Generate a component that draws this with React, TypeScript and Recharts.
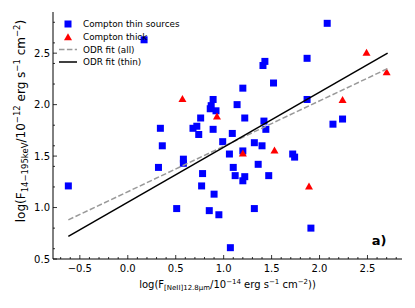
import { ScatterChart, Scatter, XAxis, YAxis, Legend } from "recharts";

// Compton thin sources (blue squares)
const thinX = [
  -0.62, 0.17, 0.34, 0.36, 0.32, 0.58, 0.58, 0.51, 0.78, 0.77, 0.85, 0.68, 0.72,
  0.74, 0.76, 0.89, 0.87, 0.92, 0.86, 0.89, 1.2, 1.52, 1.14, 1.22, 1.09, 1.42,
  1.44, 0.99, 1.32, 1.4, 1.06, 1.2, 1.1, 1.36, 1.12, 1.22, 1.47, 1.2, 0.9, 0.95,
  1.32, 1.07, 2.08, 1.87, 1.43, 1.41, 1.87, 2.14, 2.24, 1.72, 1.74, 1.91,
];
const thinY = [
  1.21, 2.63, 1.77, 1.6, 1.39, 1.47, 1.43, 0.99, 1.33, 1.21, 0.97, 1.77, 1.79,
  1.71, 1.87, 2.05, 1.99, 1.94, 1.96, 1.76, 2.16, 2.21, 2.0, 1.87, 1.72, 1.84,
  1.76, 1.64, 1.63, 1.6, 1.52, 1.55, 1.39, 1.42, 1.31, 1.3, 1.31, 1.26, 1.13, 0.93,
  0.99, 0.61, 2.79, 2.45, 2.42, 2.38, 2.05, 1.81, 1.86, 1.52, 1.49, 0.8,
];

// Compton thick (red triangles)
const thickX = [0.57, 0.93, 1.2, 1.53, 1.89, 2.24, 2.49, 2.7];
const thickY = [2.06, 1.89, 1.53, 1.56, 1.21, 2.05, 2.51, 2.32];

// ODR fits, end points
const fitX = [-0.62, 2.71];
const fitAllY = [0.88, 2.35];
const fitThinY = [0.72, 2.5];

const xMajor = [-0.5, 0, 0.5, 1, 1.5, 2, 2.5];
const yMajor = [0.5, 1, 1.5, 2, 2.5];
const xTicks = [
  -0.7, -0.6, -0.5, -0.4, -0.3, -0.2, -0.1, 0, 0.1, 0.2, 0.3, 0.4, 0.5, 0.6, 0.7,
  0.8, 0.9, 1, 1.1, 1.2, 1.3, 1.4, 1.5, 1.6, 1.7, 1.8, 1.9, 2, 2.1, 2.2, 2.3, 2.4,
  2.5, 2.6, 2.7, 2.8,
];
const yTicks = [0.5, 0.6, 0.8, 1, 1.2, 1.4, 1.5, 1.6, 1.8, 2, 2.2, 2.4, 2.5, 2.6, 2.8];

const legendLabels = ["Compton thin sources", "Compton thick", "ODR fit (all)", "ODR fit (thin)"];

const FONT = "DejaVu Sans";
const X_DOMAIN: [number, number] = [-0.78, 2.86];
const Y_DOMAIN: [number, number] = [0.5, 2.9];

const zip = (xs: number[], ys: number[]) => xs.map((x, i) => ({ x, y: ys[i] }));
const isMajor = (v: number, list: number[]) => list.some((m) => Math.abs(m - v) < 1e-6);
const fmt = (v: number) => (v < 0 ? "\u2212" : "") + Math.abs(v).toFixed(1);

function BottomTick({ x, y, payload }: any) {
  const big = isMajor(payload.value, xMajor);
  return (
    <g>
      <line x1={x} x2={x} y1={y} y2={y - (big ? 4 : 2)} stroke="#000" strokeWidth={0.8} />
      {big && (
        <text x={x} y={y + 13} textAnchor="middle" fontSize={10} fontFamily={FONT} fill="#000">
          {fmt(payload.value)}
        </text>
      )}
    </g>
  );
}

function TopTick({ x, y, payload }: any) {
  const big = isMajor(payload.value, xMajor);
  return <line x1={x} x2={x} y1={y} y2={y + (big ? 4 : 2)} stroke="#000" strokeWidth={0.8} />;
}

function LeftTick({ x, y, payload }: any) {
  const big = isMajor(payload.value, yMajor);
  return (
    <g>
      <line x1={x} x2={x + (big ? 4 : 2)} y1={y} y2={y} stroke="#000" strokeWidth={0.8} />
      {big && (
        <text x={x - 3} y={y + 3.6} textAnchor="end" fontSize={10} fontFamily={FONT} fill="#000">
          {fmt(payload.value)}
        </text>
      )}
    </g>
  );
}

function RightTick({ x, y, payload }: any) {
  const big = isMajor(payload.value, yMajor);
  return <line x1={x} x2={x - (big ? 4 : 2)} y1={y} y2={y} stroke="#000" strokeWidth={0.8} />;
}

const Square = ({ cx, cy }: any) => (
  <rect x={cx - 3.5} y={cy - 3.5} width={7} height={7} fill="#0000ff" />
);
const Triangle = ({ cx, cy }: any) => (
  <polygon points={`${cx},${cy - 3.5} ${cx - 4},${cy + 3.5} ${cx + 4},${cy + 3.5}`} fill="#ff0000" />
);
const NoMark = () => <g />;

function XTitle({ viewBox }: any) {
  const cx = viewBox.x + viewBox.width / 2;
  return (
    <text x={cx} y={viewBox.y + 29} textAnchor="middle" fontSize={10} fontFamily={FONT} fill="#000">
      log(F
      <tspan fontSize={7} dy={2}>[NeII]12.8μm</tspan>
      <tspan dy={-2}>/10</tspan>
      <tspan fontSize={7} dy={-4}>−14</tspan>
      <tspan dy={4}> erg s</tspan>
      <tspan fontSize={7} dy={-4}>−1</tspan>
      <tspan dy={4}> cm</tspan>
      <tspan fontSize={7} dy={-4}>−2</tspan>
      <tspan dy={4}>))</tspan>
    </text>
  );
}

function YTitle() {
  const x = 25;
  const y = 121;
  return (
    <text
      x={x}
      y={y}
      transform={`rotate(-90, ${x}, ${y})`}
      textAnchor="middle"
      fontSize={12}
      fontFamily={FONT}
      fill="#000"
    >
      log(F
      <tspan fontSize={8.5} dy={2.5}>14−195keV</tspan>
      <tspan dy={-2.5}>/10</tspan>
      <tspan fontSize={8.5} dy={-5}>−12</tspan>
      <tspan dy={5}> erg s</tspan>
      <tspan fontSize={8.5} dy={-5}>−1</tspan>
      <tspan dy={5}> cm</tspan>
      <tspan fontSize={8.5} dy={-5}>−2</tspan>
      <tspan dy={5}>)</tspan>
    </text>
  );
}

function LegendBox() {
  const rows = [24, 36.8, 49.4, 62];
  return (
    <svg width={220} height={80} style={{ overflow: "visible" }}>
      <rect x={64.5} y={rows[0] - 3.5} width={7} height={7} fill="#0000ff" />
      <polygon points={`68,${rows[1] - 3.5} 64,${rows[1] + 3.5} 72,${rows[1] + 3.5}`} fill="#ff0000" />
      <line x1={59} x2={77} y1={rows[2]} y2={rows[2]} stroke="#999" strokeWidth={1.5} strokeDasharray="5.5 2.4" />
      <line x1={59} x2={77} y1={rows[3]} y2={rows[3]} stroke="#000" strokeWidth={1.5} />
      {legendLabels.map((t, i) => (
        <text key={t} x={83} y={rows[i] + 3.2} fontSize={8.8} fontFamily={FONT} fill="#000">
          {t}
        </text>
      ))}
    </svg>
  );
}

export default function App() {
  return (
    <div style={{ position: "absolute", left: 0, top: 0, width: 415, height: 308, background: "#fff" }}>
      <ScatterChart width={415} height={308} margin={{ top: 12, right: 13, bottom: 0, left: 0 }}>
        <XAxis
          type="number"
          dataKey="x"
          domain={X_DOMAIN}
          allowDataOverflow
          ticks={xTicks}
          interval={0}
          height={49}
          tickSize={0}
          tickMargin={0}
          tick={BottomTick}
          tickLine={false}
          axisLine={{ stroke: "#000", strokeWidth: 1 }}
          label={{ content: XTitle }}
        />
        <XAxis
          xAxisId="top"
          orientation="top"
          type="number"
          dataKey="x"
          domain={X_DOMAIN}
          allowDataOverflow
          ticks={xTicks}
          interval={0}
          height={0}
          tickSize={0}
          tickMargin={0}
          tick={TopTick}
          tickLine={false}
          axisLine={{ stroke: "#000", strokeWidth: 1 }}
        />
        <YAxis
          type="number"
          dataKey="y"
          domain={Y_DOMAIN}
          allowDataOverflow
          ticks={yTicks}
          interval={0}
          width={53}
          tickSize={0}
          tickMargin={0}
          tick={LeftTick}
          tickLine={false}
          axisLine={{ stroke: "#000", strokeWidth: 1 }}
          label={{ content: YTitle }}
        />
        <YAxis
          yAxisId="right"
          orientation="right"
          type="number"
          dataKey="y"
          domain={Y_DOMAIN}
          allowDataOverflow
          ticks={yTicks}
          interval={0}
          width={0}
          tickSize={0}
          tickMargin={0}
          tick={RightTick}
          tickLine={false}
          axisLine={{ stroke: "#000", strokeWidth: 1 }}
        />
        <Legend
          layout="vertical"
          align="center"
          verticalAlign="middle"
          content={LegendBox}
          wrapperStyle={{ left: 0, top: 0, width: 220, height: 80 }}
        />
        <Scatter name="Compton thin sources" data={zip(thinX, thinY)} shape={Square} isAnimationActive={false} />
        <Scatter name="Compton thick" data={zip(thickX, thickY)} shape={Triangle} isAnimationActive={false} />
        <Scatter
          name="ODR fit (all)"
          data={zip(fitX, fitAllY)}
          shape={NoMark}
          line={{ stroke: "#999", strokeWidth: 1.5, strokeDasharray: "5.5 2.4" }}
          lineType="joint"
          isAnimationActive={false}
        />
        <Scatter
          name="ODR fit (thin)"
          data={zip(fitX, fitThinY)}
          shape={NoMark}
          line={{ stroke: "#000", strokeWidth: 1.5 }}
          lineType="joint"
          isAnimationActive={false}
        />
      </ScatterChart>
      <svg
        width={415}
        height={308}
        style={{ position: "absolute", left: 0, top: 0, pointerEvents: "none" }}
      >
        <text x={379} y={245} textAnchor="middle" fontSize={13} fontWeight="bold" fontFamily={FONT} fill="#000">
          a)
        </text>
      </svg>
    </div>
  );
}
